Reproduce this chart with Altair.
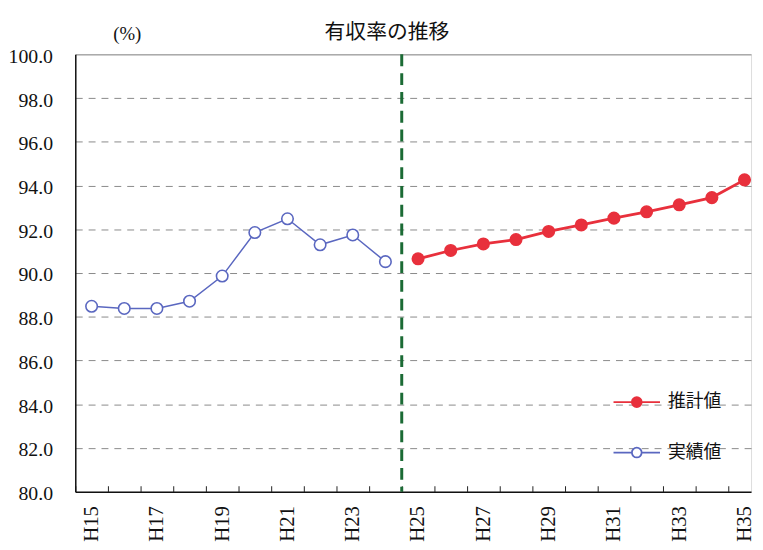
import json
import altair as alt
import pandas as pd

# ---- data ----
actual_labels = ["H15", "H16", "H17", "H18", "H19", "H20", "H21", "H22", "H23", "H24"]
actual_values = [88.48, 88.38, 88.38, 88.71, 89.86, 91.85, 92.48, 91.29, 91.74, 90.52]
forecast_labels = ["H25", "H26", "H27", "H28", "H29", "H30", "H31", "H32", "H33", "H34", "H35"]
forecast_values = [90.65, 91.03, 91.33, 91.53, 91.90, 92.20, 92.51, 92.80, 93.12, 93.45, 94.26]
series_names = ["推計値", "実績値"]
x_tick_labels = ["H15", "H17", "H19", "H21", "H23", "H25", "H27", "H29", "H31", "H33", "H35"]
y_ticks = [80.0, 82.0, 84.0, 86.0, 88.0, 90.0, 92.0, 94.0, 96.0, 98.0, 100.0]

RED = "#e8303c"
BLUE = "#5a67c0"
GREEN = "#1b6b35"

rows = []
for lab, v in zip(actual_labels, actual_values):
    rows.append({"label": lab, "year": int(lab[1:]), "value": v, "series": "実績値"})
for lab, v in zip(forecast_labels, forecast_values):
    rows.append({"label": lab, "year": int(lab[1:]), "value": v, "series": "推計値"})
df = pd.DataFrame(rows)

all_years = [int(l[1:]) for l in actual_labels + forecast_labels]
boundary = pd.DataFrame({"year": [(int(actual_labels[-1][1:]) + int(forecast_labels[0][1:])) / 2]})

W, H = 683, 442
step = W / (max(all_years) + 0.2 - (min(all_years) - 0.5))

x_scale = alt.Scale(domain=[min(all_years) - 0.5, max(all_years) + 0.2], nice=False, zero=False)
y_scale = alt.Scale(domain=[y_ticks[0], y_ticks[-1]], nice=False, zero=False)

label_expr = "indexof(%s, 'H' + datum.value) >= 0 ? 'H' + datum.value : ''" % json.dumps(x_tick_labels)

x_axis = alt.Axis(
    title=None, values=all_years, labelExpr=label_expr,
    tickOffset=-step / 2, labelOffset=step / 2,
    domain=False, offset=-6, tickSize=6, tickColor="#222", tickWidth=1,
    labelAngle=270, labelAlign="right", labelBaseline="middle",
    labelFont="Liberation Serif", labelFontSize=21, labelColor="#111", labelPadding=14,
    grid=False, labelOverlap=False,
)

y_axis = alt.Axis(
    title="(%)", titleAngle=0, titleX=52, titleY=-21, titleAlign="center",
    titleBaseline="middle", titleFont="Liberation Serif", titleFontSize=19,
    titleFontWeight="normal", titleColor="#111",
    values=y_ticks, format=".1f", ticks=False, labelPadding=23, labelOffset=2,
    labelFont="Liberation Serif", labelFontSize=20, labelColor="#111",
    domainColor="#111", domainWidth=1.5,
    grid=True,
    gridDash={"condition": {"test": "datum.value == 80 || datum.value == 100", "value": []}, "value": [7, 6]},
    gridColor={"condition": {"test": "datum.value == 80", "value": "#111"}, "value": "#8a8a8a"},
    gridWidth={"condition": {"test": "datum.value == 80", "value": 1.5}, "value": 1},
)

legend_path = ("M-1,0L-0.21,0M0.21,0L1,0M0.21,0A0.21,0.21,0,1,1,-0.21,0"
               "A0.21,0.21,0,1,1,0.21,0Z")
legend = alt.Legend(
    title=None, orient="none", legendX=543, legendY=327,
    symbolType=legend_path, symbolSize=2209, symbolStrokeWidth=1.8,
    labelFont="Noto Sans CJK JP", labelFontSize=18, labelColor="#111",
    labelOffset=7, rowPadding=17, padding=0,
)

stroke_scale = alt.Scale(domain=series_names, range=[RED, BLUE])
fill_scale = alt.Scale(domain=series_names, range=[RED, "white"])

base = alt.Chart(df)

rule = alt.Chart(boundary).mark_rule(color=GREEN, strokeWidth=3, strokeDash=[12, 7]).encode(
    x=alt.X("year:Q", scale=x_scale, axis=x_axis),
)

def line_layer(name, width):
    return base.transform_filter(alt.datum.series == name).mark_line(strokeWidth=width).encode(
        x=alt.X("year:Q", scale=x_scale, axis=x_axis),
        y=alt.Y("value:Q", scale=y_scale, axis=y_axis),
        stroke=alt.Stroke("series:N", scale=stroke_scale, legend=legend),
    )

line_est = line_layer("推計値", 2.8)
line_act = line_layer("実績値", 1.5)

points = base.mark_point(filled=True, size=135, strokeWidth=1.6, opacity=1).encode(
    x=alt.X("year:Q", scale=x_scale, axis=x_axis),
    y=alt.Y("value:Q", scale=y_scale, axis=y_axis),
    fill=alt.Fill("series:N", scale=fill_scale, legend=legend),
    stroke=alt.Stroke("series:N", scale=stroke_scale, legend=legend),
)

chart = alt.layer(rule, line_est, line_act, points).properties(
    width=W, height=H,
    autosize=alt.AutoSizeParams(type="none"),
    padding={"left": 68, "top": 44, "right": 4, "bottom": 48},
    title=alt.TitleParams(
        "有収率の推移", anchor="start", frame="group", dx=252, dy=22,
        font="Noto Sans CJK JP", fontSize=21, fontWeight="normal", color="#111",
    ),
).configure_view(stroke=None).configure(background="white")

chart.save("out.html", embed_options={"renderer": "svg", "actions": False})
